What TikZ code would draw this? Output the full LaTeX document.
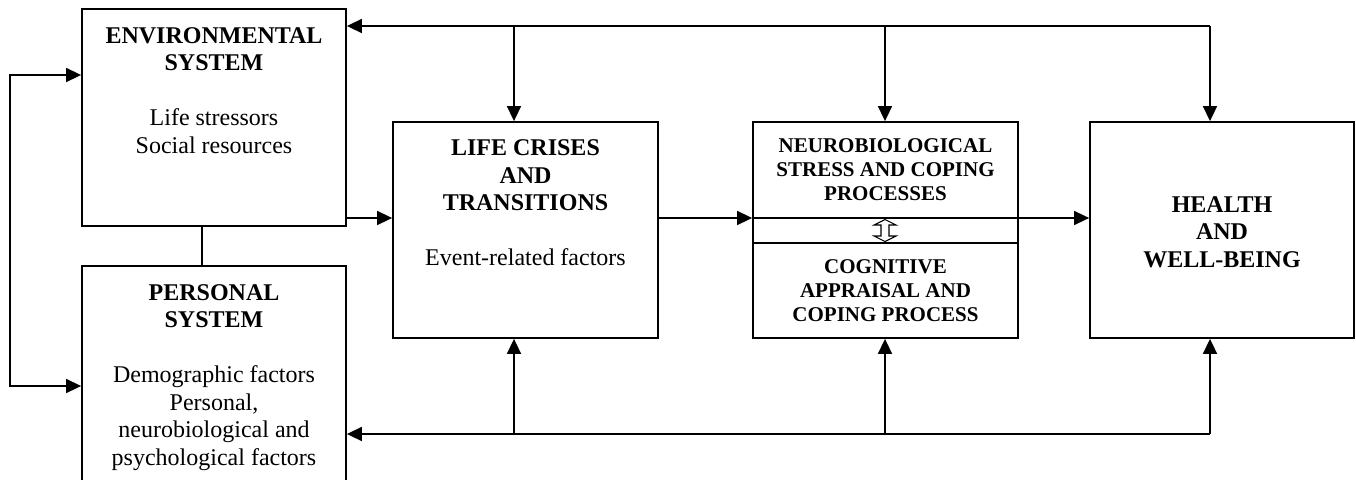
\documentclass[tikz,border=0pt]{standalone}
\usepackage{fontspec}
\setmainfont{Liberation Serif}
\usetikzlibrary{arrows.meta}
\begin{document}
\begin{tikzpicture}[x=1pt,y=-1pt,
  box/.style={draw, line width=1.8pt, inner sep=0pt},
  conn/.style={line width=1.6pt},
  arr/.style={conn, -{Triangle[length=15pt,width=14pt]}},
  darr/.style={conn, {Triangle[length=15pt,width=14pt]}-{Triangle[length=15pt,width=14pt]}},
  ttl/.style={align=center, anchor=north, inner sep=0pt, font=\fontsize{24}{27.5}\selectfont},
  ttls/.style={align=center, anchor=north, inner sep=0pt, font=\fontsize{21}{24.3}\selectfont\bfseries}
]
\clip (0,0) rectangle (1356,479);
\fill[white] (0,0) rectangle (1356,479);

% boxes
\node[box, minimum width=264pt, minimum height=217pt] (env) at (214,117.5) {};
\node[box, minimum width=264pt, minimum height=240pt] (ps) at (214,386) {};
\node[box, minimum width=265pt, minimum height=216pt] (lc) at (525.5,230) {};
\node[box, minimum width=265pt, minimum height=216pt] (ne) at (885.5,230) {};
\node[box, minimum width=264pt, minimum height=216pt] (hw) at (1222,230) {};

% texts
\node[ttl] (envt) at (214,27) {\textbf{ENVIRONMENTAL}\\\textbf{SYSTEM}\\[27.5pt]Life stressors\\Social resources};
\node[ttl] (pst) at (214,284) {\textbf{PERSONAL}\\\textbf{SYSTEM}\\[27.5pt]Demographic factors\\Personal,\\neurobiological and\\psychological factors};
\node[ttl] (lct) at (525.5,139.5) {\textbf{LIFE CRISES}\\\textbf{AND}\\\textbf{TRANSITIONS}\\[27pt]Event-related factors};
\node[ttls] (net1) at (885.5,138) {NEUROBIOLOGICAL\\STRESS AND COPING\\PROCESSES};
\node[ttls] (net2) at (885.5,259) {COGNITIVE\\APPRAISAL AND\\COPING PROCESS};
\node[ttl] (hwt) at (1222,196) {\textbf{HEALTH}\\\textbf{AND}\\\textbf{WELL-BEING}};

% bus coordinates
\coordinate (m) at (0,218);
\coordinate (d) at (0,243);
\coordinate (tb) at (0,26);
\coordinate (bb) at (0,434);
\coordinate (x1) at (514,0);
\coordinate (x2) at (885,0);
\coordinate (x3) at (1210,0);
\coordinate (xl) at (10,0);
\coordinate (xlink) at (202,0);

% neuro dividers
\draw[line width=1.4pt] (ne.west |- m) -- (ne.east |- m);
\draw[line width=1.4pt] (ne.west |- d) -- (ne.east |- d);
\draw[line width=1.1pt, fill=white] (885,219.5) -- (874,225) -- (881,225) -- (881,236) -- (874,236) -- (885,241.5) -- (896,236) -- (889,236) -- (889,225) -- (896,225) -- cycle;

% top bus
\draw[arr] (x3 |- tb) -- (env.east |- tb);
\draw[arr] (x1 |- tb) -- (x1 |- lc.north);
\draw[arr] (x2 |- tb) -- (x2 |- ne.north);
\draw[arr] (x3 |- tb) -- (x3 |- hw.north);

% bottom bus
\draw[arr] (x3 |- bb) -- (ps.east |- bb);
\draw[arr] (x1 |- bb) -- (x1 |- lc.south);
\draw[arr] (x2 |- bb) -- (x2 |- ne.south);
\draw[arr] (x3 |- bb) -- (x3 |- hw.south);

% left loop
\draw[darr] (env.west |- 0,75) -- (xl |- 0,75) -- (xl |- 0,386) -- (ps.west |- 0,386);

% env - personal link
\draw[conn] (xlink |- env.south) -- (xlink |- ps.north);

% main flow
\draw[arr] (env.east |- m) -- (lc.west |- m);
\draw[arr] (lc.east |- m) -- (ne.west |- m);
\draw[arr] (ne.east |- m) -- (hw.west |- m);
\end{tikzpicture}
\end{document}
